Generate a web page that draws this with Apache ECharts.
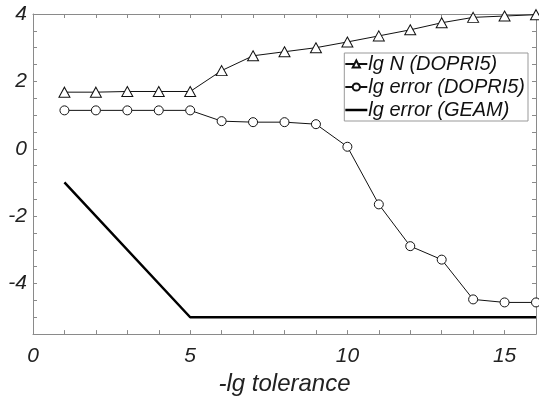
<!DOCTYPE html>
<html><head><meta charset="utf-8">
<script src="https://cdn.jsdelivr.net/npm/echarts@6/dist/echarts.min.js"></script>
<style>html,body{margin:0;padding:0;background:#fff}#c{width:539px;height:401px}</style>
</head><body><div id="c"></div>
<script>
const xs = [1,2,3,4,5,6,7,8,9,10,11,12,13,14,15,16];
const lgN = [1.68,1.68,1.7,1.7,1.7,2.32,2.76,2.88,3.0,3.17,3.35,3.53,3.74,3.9,3.94,3.98];
const lgErrDop = [1.14,1.14,1.14,1.14,1.14,0.82,0.79,0.79,0.73,0.06,-1.65,-2.89,-3.29,-4.47,-4.56,-4.56];
const geamX = [1,5,16];
const geamY = [-1,-5,-5];
const yLabels = [-4,-2,0,2,4];
const xLabels = [0,5,10,15];
const yTicks = [-5.5,-5,-4.5,-4,-3.5,-3,-2.5,-2,-1.5,-1,-0.5,0,0.5,1,1.5,2,2.5,3,3.5,4];
const xTicks = [1,2,3,4,5,6,7,8,9,10,11,12,13,14,15];

const F = 'Liberation Sans, Arial, sans-serif';
const frame = '#8a8a8a';
const chart = echarts.init(document.getElementById('c'));
const pair = (a,b)=>a.map((v,i)=>[v,b[i]]);
const axLine = {show:true,onZero:false,lineStyle:{color:frame,width:1}};
chart.setOption({
  animation:false,
  grid:{left:33,top:14,right:3,bottom:65},
  xAxis:[{type:'value',min:0,max:16,
    name:'-lg tolerance',nameLocation:'middle',nameGap:35,
    nameTextStyle:{fontFamily:F,fontStyle:'italic',fontSize:24,color:'#222'},
    axisLine:axLine,
    axisTick:{show:true,inside:true,length:4,lineStyle:{color:frame},customValues:xTicks},
    axisLabel:{customValues:xLabels,fontFamily:F,fontStyle:'italic',fontSize:21,color:'#222',margin:12},
    splitLine:{show:false}},
   {type:'value',min:0,max:16,position:'top',
    axisLine:axLine,
    axisTick:{show:true,inside:true,length:4,lineStyle:{color:frame},customValues:xTicks},
    axisLabel:{show:false},splitLine:{show:false}}],
  yAxis:[{type:'value',min:-5.5,max:4,
    axisLine:axLine,
    axisTick:{show:true,inside:true,length:4,lineStyle:{color:frame},customValues:yTicks},
    axisLabel:{customValues:yLabels,fontFamily:F,fontStyle:'italic',fontSize:21,color:'#222',margin:6},
    splitLine:{show:false}},
   {type:'value',min:-5.5,max:4,position:'right',
    axisLine:axLine,
    axisTick:{show:true,inside:true,length:4,lineStyle:{color:frame},customValues:yTicks},
    axisLabel:{show:false},splitLine:{show:false}}],
  legend:{orient:'vertical',right:11,top:53,
    backgroundColor:'#fff',borderColor:'#999',borderWidth:1,
    padding:[1,3,1,0],itemGap:3,itemWidth:22,itemHeight:9,
    textStyle:{fontFamily:F,fontStyle:'italic',fontSize:20,color:'#111',padding:[0,0,0,-4]},
    data:['lg N (DOPRI5)','lg error (DOPRI5)',
      {name:'lg error (GEAM)',icon:'path://M0,0 L22,0 L22,2.5 L0,2.5 Z',itemStyle:{color:'#000'}}]},
  series:[
    {name:'lg N (DOPRI5)',type:'line',data:pair(xs,lgN),symbol:'triangle',symbolSize:[11,10],
     lineStyle:{color:'#111',width:1},itemStyle:{color:'#fff',borderColor:'#111',borderWidth:1},z:3},
    {name:'lg error (DOPRI5)',type:'line',data:pair(xs,lgErrDop),symbol:'circle',symbolSize:9,
     lineStyle:{color:'#111',width:1},itemStyle:{color:'#fff',borderColor:'#111',borderWidth:1},z:3},
    {name:'lg error (GEAM)',type:'line',data:pair(geamX,geamY),symbol:'none',
     lineStyle:{color:'#000',width:2.5},itemStyle:{color:'#000'},z:2}
  ]
});
</script></body></html>
